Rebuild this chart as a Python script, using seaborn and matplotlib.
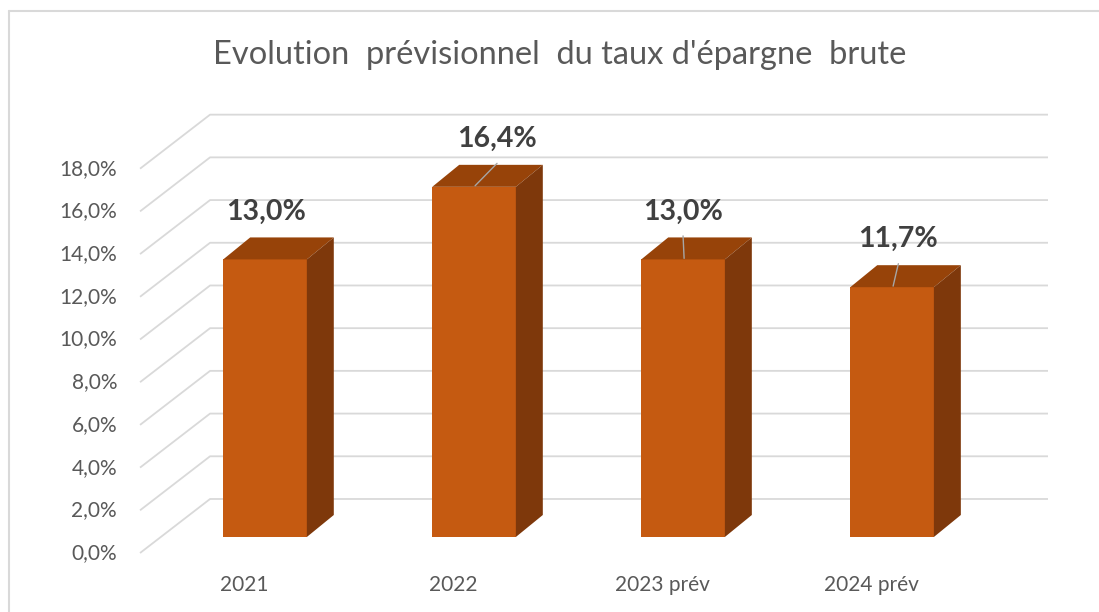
import pandas as pd
import matplotlib
matplotlib.use("Agg")
import matplotlib.pyplot as plt
from matplotlib.patches import Polygon
from matplotlib.lines import Line2D
import seaborn as sns

# Chart data
years = ["2021", "2022", "2023 prév", "2024 prév"]
taux = [13.0, 16.4, 13.0, 11.7]
y_ticks = [0, 2, 4, 6, 8, 10, 12, 14, 16, 18]
title = "Evolution  prévisionnel  du taux d'épargne  brute"

# Layout of the labels (offsets in category units) and leader lines
label_dx = [0.005, 0.11, 0.0, 0.03]
has_leader = [False, True, True, True]

# Colours of the 3D faces
FRONT = "#C55A11"
TOP = "#974309"
SIDE = "#7E380B"
GRID = "#D9D9D9"
TEXT = "#595959"

# Fake 3D geometry, in data units
BAR_DX, BAR_DY = 0.129, 1.03      # depth of a bar
FRONT_X, FRONT_Y = -0.598, -0.75  # front floor edge (left) / offset
BACK_X, BACK_Y = -0.263, 1.78     # back wall (left) / offset
BACK_XR = 3.746                   # back wall right edge


def fmt_pct(v):
    return f"{v:.1f}".replace(".", ",") + "%"


sns.set_theme(style="white")
plt.rcParams["font.family"] = ["Lato", "DejaVu Sans"]

fig = plt.figure(figsize=(10.99, 6.12), dpi=100)
ax = fig.add_axes([0, 0, 1, 1])

df = pd.DataFrame({"annee": years, "taux": taux})
sns.barplot(data=df, x="annee", y="taux", color=FRONT, saturation=1,
            width=0.4, linewidth=0, ax=ax, zorder=3)

# Back wall / floor gridlines with their diagonal into depth
for t in y_ticks:
    ax.plot([FRONT_X, BACK_X, BACK_XR], [t + FRONT_Y, t + BACK_Y, t + BACK_Y],
            color=GRID, lw=1.3, zorder=1, solid_capstyle="butt")
    ax.text(FRONT_X - 0.11, t + FRONT_Y, fmt_pct(t), ha="right", va="center",
            fontsize=15, color=TEXT)

# Top and side faces of each bar
for i, patch in enumerate(ax.patches):
    x0, w, h = patch.get_x(), patch.get_width(), patch.get_height()
    top = [(x0, h), (x0 + w, h), (x0 + w + BAR_DX, h + BAR_DY), (x0 + BAR_DX, h + BAR_DY)]
    side = [(x0 + w, 0), (x0 + w + BAR_DX, BAR_DY), (x0 + w + BAR_DX, h + BAR_DY), (x0 + w, h)]
    ax.add_patch(Polygon(top, closed=True, facecolor=TOP, edgecolor="none", zorder=3))
    ax.add_patch(Polygon(side, closed=True, facecolor=SIDE, edgecolor="none", zorder=3))

    xc = x0 + w / 2
    ax.text(xc + label_dx[i], h + 2.25, fmt_pct(taux[i]), ha="center", va="center",
            fontsize=20.5, fontweight="bold", color="#404040", zorder=5)
    if has_leader[i]:
        ax.plot([xc + 0.005, xc + label_dx[i]], [h + 0.05, h + 1.1],
                color="#A6A6A6", lw=1, zorder=4)

# Category labels on the front floor edge
for i, name in enumerate(years):
    ax.text(i - 0.1, -2.25, name, ha="center", va="center", fontsize=15, color=TEXT)

ax.set_xlim(-1.268, 3.990)
ax.set_ylim(-3.513, 25.15)
ax.axis("off")

fig.text(560 / 1099, 1 - 55 / 612, title, ha="center", va="center",
         fontsize=23.5, color=TEXT)

# Chart area border (top and left visible)
bx, by = 8.5 / 1099, 1 - 10.5 / 612
fig.add_artist(Line2D([bx, 1], [by, by], transform=fig.transFigure, color=GRID, lw=1.5))
fig.add_artist(Line2D([bx, bx], [0, by], transform=fig.transFigure, color=GRID, lw=1.5))

fig.savefig("out.png", dpi=100, facecolor="white")
